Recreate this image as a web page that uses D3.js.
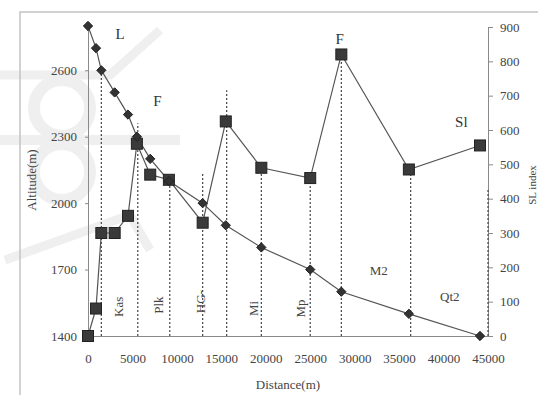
<!DOCTYPE html>
<html>
<head>
<meta charset="utf-8">
<script src="https://cdn.jsdelivr.net/npm/d3@7"></script>
<style>
  body { margin: 0; background: #fff; }
  svg text { font-family: "Liberation Serif", "Times New Roman", serif; }
</style>
</head>
<body>
<div id="graphArea"></div>
<script>
// distance along profile (m)
var distance = [0, 900, 1500, 3000, 4500, 5500, 7000, 9100, 12900, 15500, 19500, 25000, 28500, 36100, 44100];
// altitude (left axis)
var altitude = [2800, 2700, 2600, 2500, 2400, 2300, 2200, 2100, 2000, 1900, 1800, 1700, 1600, 1500, 1400];
// SL index (right axis)
var slIndex = [0, 80, 300, 300, 350, 560, 470, 455, 330, 625, 490, 460, 820, 485, 555];

// formation boundaries (dotted lines), top read on right axis
var boundDist = [1500, 5600, 9200, 12900, 15600, 19500, 25000, 28500, 36300, 45000];
var boundTop = [775, 620, 460, 478, 716, 495, 460, 818, 483, 425];

var xTicks = [0, 5000, 10000, 15000, 20000, 25000, 30000, 35000, 40000, 45000];
var leftTicks = [1400, 1700, 2000, 2300, 2600];
var rightTicks = [0, 100, 200, 300, 400, 500, 600, 700, 800, 900];

// labels inside the plot
var unitLabels = [
  {t: "Kas", d: 3600, v: 85, rot: true},
  {t: "Plk", d: 8100, v: 90, rot: true},
  {t: "HG-", d: 12800, v: 100, rot: true},
  {t: "Mi", d: 18800, v: 80, rot: true},
  {t: "Mp", d: 24100, v: 80, rot: true},
  {t: "M2", d: 32700, v: 185, rot: false},
  {t: "Qt2", d: 40700, v: 110, rot: false}
];
var eventLabels = [
  {t: "L", d: 3600, v: 875},
  {t: "F", d: 7800, v: 680},
  {t: "F", d: 28300, v: 860},
  {t: "Sl", d: 42000, v: 620}
];

var W = 538, H = 395;
var margin = { top: 26, left: 88, bottom: 59, right: 50 };
var width = W - margin.left - margin.right;
var height = H - margin.top - margin.bottom;

var root = d3.select("#graphArea").append("svg")
  .attr("width", W)
  .attr("height", H);

// faint watermark ornament behind the chart
var wm = root.append("g").attr("fill", "none").attr("stroke", "#efefef");
wm.append("circle").attr("cx", 62).attr("cy", 108).attr("r", 28).attr("stroke-width", 12);
wm.append("circle").attr("cx", 62).attr("cy", 172).attr("r", 28).attr("stroke-width", 12);
wm.append("path").attr("d", "M0,140 L180,140").attr("stroke-width", 10);
wm.append("path").attr("d", "M0,75 L110,75 L160,30").attr("stroke-width", 9);
wm.append("path").attr("d", "M5,260 L130,215 L150,250").attr("stroke-width", 9);

// outer frame lines
root.append("path").attr("d", "M20,395 L20,12 L538,12")
  .attr("fill", "none").attr("stroke", "#c4c4c4").attr("stroke-width", 1.5);

var svg = root.append("g")
  .attr("transform", "translate(" + margin.left + "," + margin.top + ")");

var x = d3.scaleLinear().domain([0, 45000]).range([0, width]);
var yL = d3.scaleLinear().domain([1400, 2800]).range([height, 0]);
var yR = d3.scaleLinear().domain([0, 900]).range([height, 1]);

// axes
var xAxis = svg.append("g")
  .attr("transform", "translate(0," + height + ")")
  .call(d3.axisBottom(x).tickValues(xTicks).tickFormat(d3.format("d")).tickSize(0).tickPadding(18));
var lAxis = svg.append("g")
  .call(d3.axisLeft(yL).tickValues(leftTicks).tickFormat(d3.format("d")).tickSize(3).tickSizeOuter(0).tickPadding(8));
var rAxis = svg.append("g")
  .attr("transform", "translate(" + width + ",0)")
  .call(d3.axisRight(yR).tickValues(rightTicks).tickSize(5).tickSizeOuter(0).tickPadding(7));

[xAxis, lAxis, rAxis].forEach(function (a) {
  a.select(".domain").attr("stroke", "#8a8a8a");
  a.selectAll(".tick line").attr("stroke", "#8a8a8a");
  a.selectAll("text").attr("font-size", 13).attr("fill", "#444")
    .attr("font-family", "Liberation Serif, serif");
});

// dotted boundary lines
svg.selectAll(".bound")
  .data(boundDist)
  .enter()
  .append("line")
  .attr("class", "bound")
  .attr("x1", function (d) { return x(d); })
  .attr("x2", function (d) { return x(d); })
  .attr("y1", height)
  .attr("y2", function (d, i) { return yR(boundTop[i]); })
  .attr("stroke", "#444")
  .attr("stroke-width", 1.2)
  .attr("stroke-dasharray", "2,2");

// altitude profile
var altPts = distance.map(function (d, i) { return [x(d), yL(altitude[i])]; });
svg.append("path")
  .attr("d", d3.line()(altPts))
  .attr("fill", "none").attr("stroke", "#555").attr("stroke-width", 1.2);

// SL index
var slPts = distance.map(function (d, i) { return [x(d), yR(slIndex[i])]; });
svg.append("path")
  .attr("d", d3.line()(slPts))
  .attr("fill", "none").attr("stroke", "#555").attr("stroke-width", 1.2);

svg.selectAll(".sq")
  .data(slPts)
  .enter()
  .append("rect")
  .attr("class", "sq")
  .attr("x", function (d) { return d[0] - 5.5; })
  .attr("y", function (d) { return d[1] - 5.5; })
  .attr("width", 11).attr("height", 11)
  .attr("fill", "#3a3a3a").attr("stroke", "#222").attr("stroke-width", 1);

svg.selectAll(".dia")
  .data(altPts)
  .enter()
  .append("path")
  .attr("class", "dia")
  .attr("d", d3.symbol().type(d3.symbolDiamond2).size(55))
  .attr("transform", function (d) { return "translate(" + d[0] + "," + d[1] + ")"; })
  .attr("fill", "#333").attr("stroke", "#222");

// labels
svg.selectAll(".unit")
  .data(unitLabels)
  .enter()
  .append("text")
  .attr("class", "unit")
  .attr("text-anchor", "middle")
  .attr("dominant-baseline", "middle")
  .attr("font-size", 13)
  .attr("fill", "#444")
  .attr("transform", function (d) {
    var t = "translate(" + x(d.d) + "," + yR(d.v) + ")";
    return d.rot ? t + " rotate(-90)" : t;
  })
  .text(function (d) { return d.t; });

svg.selectAll(".evt")
  .data(eventLabels)
  .enter()
  .append("text")
  .attr("class", "evt")
  .attr("text-anchor", "middle")
  .attr("dominant-baseline", "middle")
  .attr("font-size", 15)
  .attr("fill", "#333")
  .attr("x", function (d) { return x(d.d); })
  .attr("y", function (d) { return yR(d.v); })
  .text(function (d) { return d.t; });

// axis titles
root.append("text")
  .attr("x", 288).attr("y", 389)
  .attr("text-anchor", "middle")
  .attr("font-size", 13).attr("fill", "#444")
  .text("Distance(m)");
root.append("text")
  .attr("transform", "translate(36,180) rotate(-90)")
  .attr("text-anchor", "middle")
  .attr("font-size", 13).attr("fill", "#444")
  .text("Altitude(m)");
root.append("text")
  .attr("transform", "translate(536,185) rotate(-90)")
  .attr("text-anchor", "middle")
  .attr("font-size", 11).attr("fill", "#444")
  .text("SL index");
</script>
</body>
</html>
